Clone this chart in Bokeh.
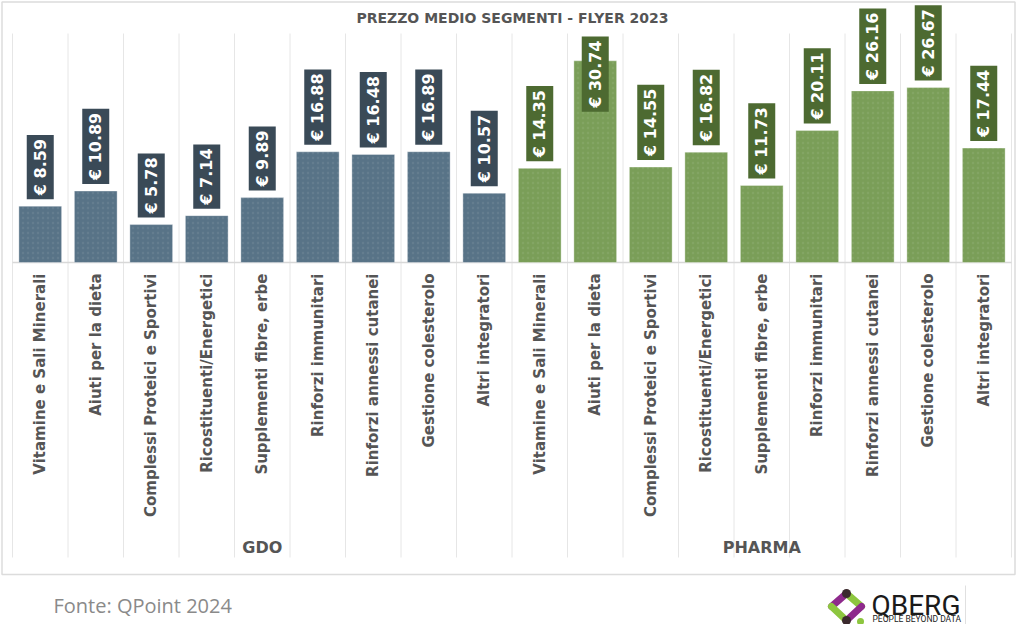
import math
from bokeh.plotting import figure
from bokeh.models import Range1d
from bokeh.core.properties import value
from bokeh.embed import file_html
from bokeh.resources import INLINE

# ---------------- data ----------------
segments = [
    "Vitamine e Sali Minerali",
    "Aiuti per la dieta",
    "Complessi Proteici e Sportivi",
    "Ricostituenti/Energetici",
    "Supplementi fibre, erbe",
    "Rinforzi immunitari",
    "Rinforzi annessi cutanei",
    "Gestione colesterolo",
    "Altri integratori",
]
groups = ["GDO", "PHARMA"]
gdo_values = [8.59, 10.89, 5.78, 7.14, 9.89, 16.88, 16.48, 16.89, 10.57]
pharma_values = [14.35, 30.74, 14.55, 16.82, 11.73, 20.11, 26.16, 26.67, 17.44]
title_text = "PREZZO MEDIO SEGMENTI - FLYER 2023"
source_text = "Fonte: QPoint 2024"
logo_name = "QBERG"
logo_tagline = "PEOPLE BEYOND DATA"

# ---------------- layout ----------------
W, H = 1016, 624
X0, X1 = 12.0, 1011.0       # x of first / last category boundary
Y0 = 262.0                  # y of the baseline
n = len(segments) * len(groups)
UX = (X1 - X0) / n
UY = 6.56                   # px per euro


def dx(sx):
    return (sx - X0) / UX


def dy(sy):
    return (Y0 - sy) / UY


p = figure(width=W, height=H,
           x_range=Range1d(dx(0), dx(W)),
           y_range=Range1d(dy(H), dy(0)),
           output_backend="svg", toolbar_location=None, tools="",
           min_border=0, x_axis_location=None, y_axis_location=None)
p.grid.visible = False
p.outline_line_color = None
p.background_fill_color = "white"
p.border_fill_color = "white"

GREY = "#555555"

# outer frame
p.quad(left=[dx(1.5)], right=[dx(1014.5)], bottom=[dy(574)], top=[dy(1.5)],
       fill_color=None, line_color="#dcdcdc", line_width=1.5)

# title
p.text(x=[dx(512)], y=[dy(17)], text=[title_text], text_align="center",
       text_baseline="middle", text_font=value("DejaVu Sans"),
       text_font_style="bold", text_font_size="14px", text_color=GREY)

# vertical separators
bounds = list(range(n + 1))
p.segment(x0=bounds, y0=[dy(33)] * len(bounds), x1=bounds, y1=[dy(557)] * len(bounds),
          line_color="#e6e6e6", line_width=1)
# baseline
p.segment(x0=[0], y0=[0], x1=[n], y1=[0], line_color="#d8d8d8", line_width=1.5)

# bars
xs = [i + 0.5 for i in range(n)]
vals = gdo_values + pharma_values
bar_colors = ["#587387"] * len(gdo_values) + ["#7a9e58"] * len(pharma_values)
box_colors = ["#3a4a57"] * len(gdo_values) + ["#4d6a31"] * len(pharma_values)
p.vbar(x=xs, top=vals, bottom=0, width=0.77, fill_color=bar_colors,
       line_color="#ffffff", line_alpha=0.35, line_width=1,
       hatch_pattern="dot", hatch_color="#ffffff", hatch_alpha=0.07, hatch_scale=5)

# value labels
FS, PAD, GAP = 16, 4, 3
cw = {"€": 0.696, " ": 0.348, ".": 0.38}
up = dict(x=[], y=[], text=[], c=[])
down = dict(x=[], y=[], text=[], c=[])
for x, v, c in zip(xs, vals, box_colors):
    t = f"€ {v:.2f}"
    est = sum(cw.get(ch, 0.696) for ch in t) * FS
    top_px = Y0 - (v * UY + GAP + 2 * PAD + est)
    if top_px < 0:
        down["x"].append(x); down["y"].append(dy(32 + PAD)); down["text"].append(t); down["c"].append(c)
    else:
        up["x"].append(x); up["y"].append(v + (GAP + PAD) / UY); up["text"].append(t); up["c"].append(c)

for d, align in ((up, "left"), (down, "right")):
    if d["x"]:
        p.text(x=d["x"], y=d["y"], text=d["text"], angle=math.pi / 2,
               text_align=align, text_baseline="middle",
               text_font=value("DejaVu Sans"), text_font_style="bold",
               text_font_size=f"{FS}px", text_color="white",
               background_fill_color=d["c"], padding=PAD)

# category labels
p.text(x=xs, y=[dy(273)] * n, text=segments * len(groups), angle=math.pi / 2,
       text_align="right", text_baseline="middle",
       text_font=value("DejaVu Sans"), text_font_style="bold",
       text_font_size="15px", text_color=GREY)

# group labels
gsize = len(segments)
p.text(x=[gsize * (k + 0.5) for k in range(len(groups))], y=[dy(547)] * len(groups),
       text=groups, text_align="center", text_baseline="middle",
       text_font=value("DejaVu Sans"), text_font_style="bold",
       text_font_size="16px", text_color=GREY)

# footer
p.text(x=[dx(53)], y=[dy(605)], text=[source_text], text_align="left",
       text_baseline="middle", text_font=value("Open Sans"),
       text_font_size="20px", text_color="#8a8a8a")

# logo
top_v, left_v, bot_v, right_v = (846, 593), (831, 606), (846, 620), (861, 606)
segs = [(top_v, left_v, "#8e2a8c"), (left_v, bot_v, "#8dc63f"),
        (top_v, right_v, "#8dc63f"), (right_v, bot_v, "#8e2a8c")]
for a, b, col in segs:
    p.segment(x0=[dx(a[0])], y0=[dy(a[1])], x1=[dx(b[0])], y1=[dy(b[1])],
              line_color=col, line_width=7, line_cap="round")
p.scatter(x=[dx(846), dx(846)], y=[dy(593), dy(620)], size=9,
          fill_color="#3b2a2e", line_color=None)
p.scatter(x=[dx(860)], y=[dy(621)], size=7, fill_color="#8dc63f", line_color=None)
p.text(x=[dx(871)], y=[dy(605)], text=[logo_name], text_align="left",
       text_baseline="middle", text_font=value("Roboto"),
       text_font_size="28px", text_color="#1a1a1a")
p.text(x=[dx(872)], y=[dy(618.5)], text=[logo_tagline], text_align="left",
       text_baseline="middle", text_font=value("Roboto"),
       text_font_size="8.5px", text_color="#1a1a1a")
p.segment(x0=[dx(965)], y0=[dy(585)], x1=[dx(965)], y1=[dy(624)],
          line_color="#e0e0e0", line_width=1)

open("out.html", "w").write(file_html(p, INLINE))
